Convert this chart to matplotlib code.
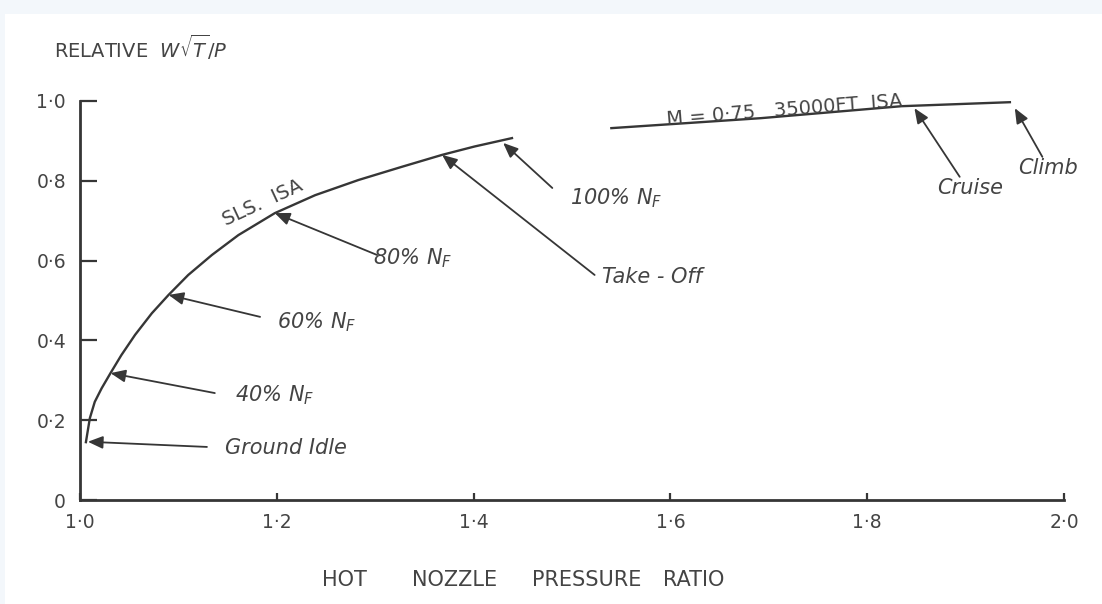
import matplotlib
matplotlib.use("Agg")
import matplotlib.pyplot as plt
from matplotlib.patches import Rectangle

# SLS ISA working line
sls_npr = [1.006, 1.010, 1.015, 1.022, 1.031, 1.042, 1.056, 1.073, 1.090,
           1.110, 1.134, 1.161, 1.198, 1.239, 1.283, 1.327, 1.368, 1.401, 1.439]
sls_flow = [0.145, 0.205, 0.246, 0.280, 0.318, 0.363, 0.414, 0.468, 0.514,
            0.564, 0.614, 0.664, 0.719, 0.764, 0.802, 0.835, 0.865, 0.886, 0.907]

# M=0.75 35000ft ISA line
alt_npr = [1.540, 1.692, 1.835, 1.945]
alt_flow = [0.932, 0.957, 0.987, 0.997]

# operating points: label, arrow tip, arrow tail, label position (left edge)
point_labels = ["Ground Idle", "40% $N_F$", "60% $N_F$", "80% $N_F$",
                "Take - Off", "100% $N_F$", "Cruise", "Climb"]
tip_npr = [1.008, 1.031, 1.090, 1.198, 1.368, 1.430, 1.848, 1.950]
tip_flow = [0.146, 0.318, 0.514, 0.719, 0.865, 0.895, 0.982, 0.982]
tail_npr = [1.129, 1.137, 1.183, 1.302, 1.523, 1.480, 1.894, 1.978]
tail_flow = [0.133, 0.268, 0.459, 0.614, 0.564, 0.782, 0.810, 0.860]
label_npr = [1.147, 1.158, 1.200, 1.298, 1.530, 1.498, 1.871, 1.953]
label_flow = [0.130, 0.263, 0.446, 0.607, 0.559, 0.757, 0.782, 0.832]

xticks = [1.0, 1.2, 1.4, 1.6, 1.8, 2.0]
xtick_labels = ["1·0", "1·2", "1·4", "1·6", "1·8", "2·0"]
yticks = [0, 0.2, 0.4, 0.6, 0.8, 1.0]
ytick_labels = ["0", "0·2", "0·4", "0·6", "0·8", "1·0"]

# x-axis title words and their centres (figure pixels)
xtitle_words = ["HOT", "NOZZLE", "PRESSURE", "RATIO"]
xtitle_px = [344, 455, 587, 694]

ink = "#363636"
txt = "#444444"

fig = plt.figure(figsize=(11.02, 6.04), dpi=100, facecolor="#f3f7fb")
fig.patches.append(Rectangle((5 / 1102, 0), 1, 1 - 14 / 604, transform=fig.transFigure,
                             facecolor="white", edgecolor="none", zorder=-10))

ax = fig.add_axes([80 / 1102, 104 / 604, 984 / 1102, 399 / 604])
ax.patch.set_alpha(0)
ax.set_xlim(1.0, 2.0)
ax.set_ylim(0, 1.0)

for side in ["top", "right"]:
    ax.spines[side].set_visible(False)
for side in ["left", "bottom"]:
    ax.spines[side].set_linewidth(2.0)
    ax.spines[side].set_color(ink)

ax.set_xticks(xticks)
ax.set_xticklabels(xtick_labels)
ax.set_yticks(yticks)
ax.set_yticklabels(ytick_labels)
ax.tick_params(axis="x", direction="in", length=5, width=1.6, color=ink,
               pad=9, labelsize=13.5, labelcolor=txt)
ax.tick_params(axis="y", direction="in", length=12, width=1.6, color=ink,
               pad=10, labelsize=13.5, labelcolor=txt)

# working lines
ax.plot(sls_npr, sls_flow, color=ink, lw=1.7, clip_on=False)
ax.plot(alt_npr, alt_flow, color=ink, lw=1.7, clip_on=False)

# arrows and labels
for i in range(len(point_labels)):
    ax.annotate("", xy=(tip_npr[i], tip_flow[i]), xytext=(tail_npr[i], tail_flow[i]),
                arrowprops=dict(arrowstyle="-|>,head_length=0.9,head_width=0.38",
                                color=ink, lw=1.3, shrinkA=0, shrinkB=0),
                annotation_clip=False)
    ax.text(label_npr[i], label_flow[i], point_labels[i], style="italic",
            fontsize=15, color=txt, ha="left", va="center")

ax.text(1.186, 0.746, "SLS.  ISA", rotation=25, fontsize=14, color=txt,
        ha="center", va="center")
ax.text(1.716, 0.977, "M = 0·75   35000FT  ISA", rotation=4.5, fontsize=14,
        color=txt, ha="center", va="center")

fig.text(54 / 1102, 1 - 47 / 604, r"RELATIVE  $W\sqrt{T}/P$", fontsize=14,
         color=txt, ha="left", va="center")
for word, px in zip(xtitle_words, xtitle_px):
    fig.text(px / 1102, 1 - 580 / 604, word, fontsize=15, color=txt,
             ha="center", va="center")

fig.savefig("out.png", dpi=100, facecolor=fig.get_facecolor())
